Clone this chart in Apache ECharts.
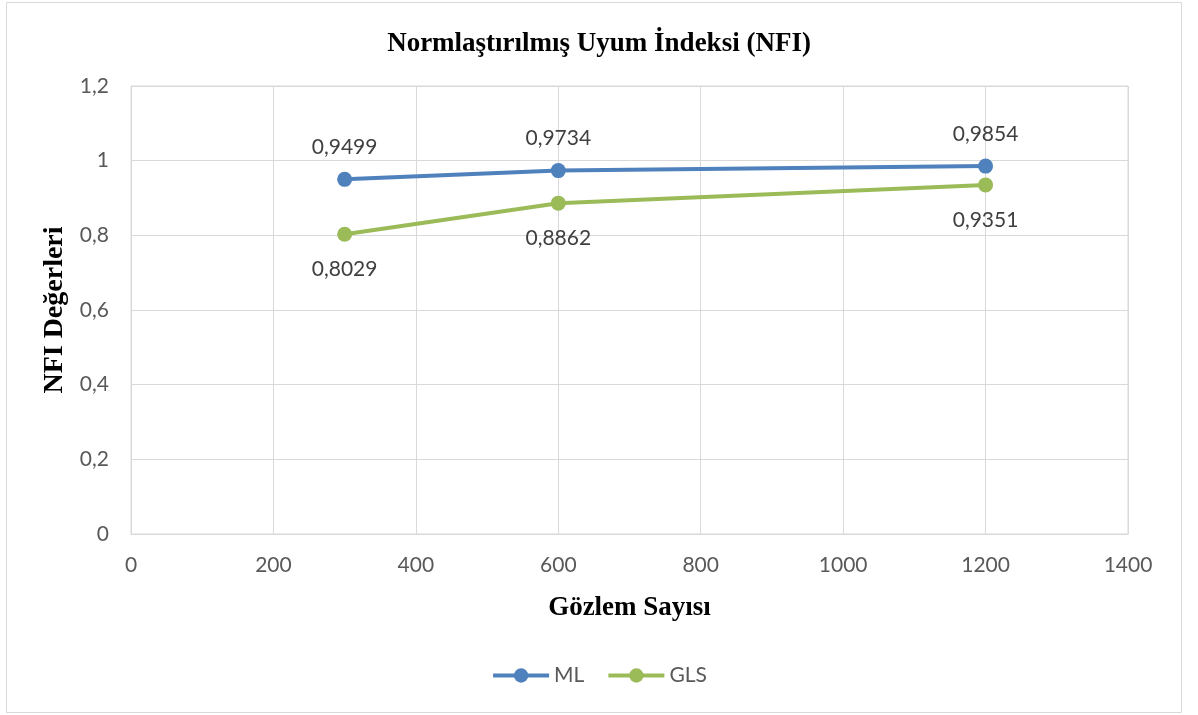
<!DOCTYPE html>
<html>
<head>
<meta charset="utf-8">
<script src="https://cdn.jsdelivr.net/npm/echarts@6/dist/echarts.min.js"></script>
<style>
  html, body { margin: 0; padding: 0; background: #fff; }
  #chart { width: 1198px; height: 715px; }
</style>
</head>
<body>
<div id="chart"></div>
<script>
// Sample sizes and NFI values per estimation method
const sampleSizes = [300, 600, 1200];
const mlValues = [0.9499, 0.9734, 0.9854];
const glsValues = [0.8029, 0.8862, 0.9351];

const labelFont = 'Lato, "Open Sans", sans-serif';
const serifFont = '"Liberation Serif", "Times New Roman", serif';
const fmt = v => String(v).replace('.', ',');

const chart = echarts.init(document.getElementById('chart'), null, { renderer: 'canvas' });

function pairs(xs, ys) { return xs.map((x, i) => [x, ys[i]]); }

chart.setOption({
  backgroundColor: '#ffffff',
  animation: false,
  graphic: [{
    type: 'rect',
    shape: { x: 6.5, y: 2.5, width: 1175, height: 710 },
    style: { fill: 'none', stroke: '#d9d9d9', lineWidth: 1 },
    silent: true
  }],
  title: {
    text: 'Normlaştırılmış Uyum İndeksi (NFI)',
    left: 'center',
    top: 26,
    textStyle: { fontFamily: serifFont, fontWeight: 'bold', fontSize: 27, color: '#000' }
  },
  grid: { left: 131, top: 86, right: 70, bottom: 181, containLabel: false, show: true, borderColor: '#d9d9d9', borderWidth: 1 },
  xAxis: {
    type: 'value',
    min: 0, max: 1400, interval: 200,
    name: 'Gözlem Sayısı',
    nameLocation: 'middle',
    nameGap: 61,
    nameTextStyle: { fontFamily: serifFont, fontWeight: 'bold', fontSize: 27, color: '#000' },
    axisLine: { show: true, lineStyle: { color: '#d9d9d9' } },
    axisTick: { show: false },
    axisLabel: { fontFamily: labelFont, fontSize: 21, color: '#595959', margin: 21, formatter: v => String(v) },
    splitLine: { show: true, lineStyle: { color: '#d9d9d9', width: 1 } }
  },
  yAxis: {
    type: 'value',
    min: 0, max: 1.2, interval: 0.2,
    name: 'NFI Değerleri',
    nameLocation: 'middle',
    nameGap: 54,
    nameRotate: 90,
    nameTextStyle: { fontFamily: serifFont, fontWeight: 'bold', fontSize: 28, color: '#000' },
    axisLine: { show: false },
    axisTick: { show: false },
    axisLabel: { fontFamily: labelFont, fontSize: 21, color: '#595959', margin: 22, formatter: v => fmt(Math.round(v * 10) / 10) },
    splitLine: { show: true, lineStyle: { color: '#d9d9d9', width: 1 } }
  },
  legend: {
    bottom: 24,
    left: 'center',
    itemWidth: 56,
    itemHeight: 18,
    itemGap: 22,
    lineStyle: { width: 4 },
    textStyle: { fontFamily: labelFont, fontSize: 21, color: '#595959' },
    data: ['ML', 'GLS']
  },
  series: [
    {
      name: 'ML',
      type: 'line',
      data: pairs(sampleSizes, mlValues),
      color: '#4f81bd',
      lineStyle: { width: 4, color: '#4f81bd' },
      symbol: 'circle',
      symbolSize: 15,
      itemStyle: { color: '#4f81bd' },
      label: {
        show: true, position: 'top', distance: 14,
        fontFamily: labelFont, fontSize: 21, color: '#404040',
        formatter: p => fmt(p.value[1])
      }
    },
    {
      name: 'GLS',
      type: 'line',
      data: pairs(sampleSizes, glsValues),
      color: '#9bbb59',
      lineStyle: { width: 4, color: '#9bbb59' },
      symbol: 'circle',
      symbolSize: 15,
      itemStyle: { color: '#9bbb59' },
      label: {
        show: true, position: 'bottom', distance: 17,
        fontFamily: labelFont, fontSize: 21, color: '#404040',
        formatter: p => fmt(p.value[1])
      }
    }
  ]
});
</script>
</body>
</html>
